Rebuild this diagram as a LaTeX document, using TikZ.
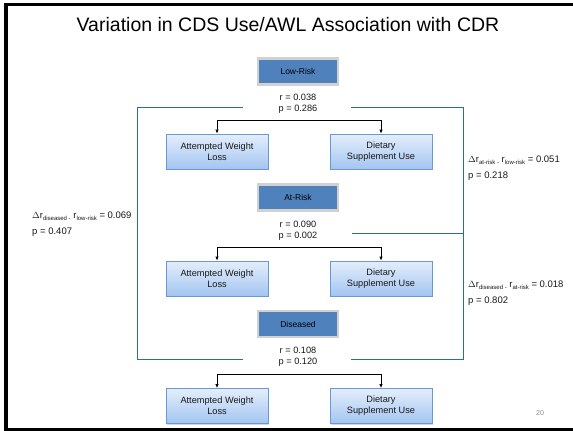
\documentclass[tikz,border=0pt]{standalone}
\usepackage{fontspec}
\setmainfont{Liberation Sans}
\usetikzlibrary{arrows.meta,shadows}
\definecolor{darkbox}{HTML}{4F81BD}
\definecolor{framebl}{HTML}{2A68C2}
\definecolor{lighttop}{HTML}{E4EEFB}
\definecolor{lightbot}{HTML}{A3C5F1}
\definecolor{lightedge}{HTML}{6B98D0}
\newcommand{\sbs}[1]{\raisebox{-0.35ex}{\fontsize{6}{6}\selectfont #1}}
\tikzset{
  darkstep/.style={fill=darkbox, draw=black!18, line width=2.2pt, minimum width=80pt, minimum height=26pt,
    inner sep=0pt, font=\fontsize{8.5}{10}\selectfont, text=black,
    drop shadow={shadow xshift=1.2pt, shadow yshift=-1.2pt, opacity=0.3}},
  lightbox/.style={top color=lighttop, bottom color=lightbot, draw=lightedge, line width=0.8pt,
    minimum width=102pt, minimum height=35pt, inner sep=0pt, align=center,
    font=\fontsize{9.2}{11}\selectfont, text=black!90,
    drop shadow={shadow xshift=1.2pt, shadow yshift=-1.2pt, opacity=0.3}},
  rptext/.style={align=center, inner sep=0pt, font=\fontsize{9.2}{11}\selectfont, text=black!90},
  dtext/.style={align=left, inner sep=0pt, anchor=west, font=\fontsize{9.5}{16}\selectfont, text=black!90},
  arr/.style={-{Latex[length=4pt,width=3.5pt]}, line width=0.8pt, black},
  frameline/.style={draw=framebl, line width=1.1pt}
}
\begin{document}
\begin{tikzpicture}[x=1pt,y=-1pt]
\useasboundingbox (0,0) rectangle (573,431);
\fill[white] (0,0) rectangle (573,431);
% slide frame
\fill[black] (4,3) rectangle (8,431);
\fill[black] (4,3) rectangle (573,6);
\fill[black] (4,428) rectangle (573,431);

\node[font=\fontsize{19.5}{21}\selectfont, text=black] (title) at (288,25) {Variation in CDS Use/AWL Association with CDR};

% blue brackets
\coordinate (fa) at (243,107.5);
\coordinate (fb) at (137.5,107.5);
\coordinate (fc) at (137.5,359.5);
\coordinate (fd) at (243,359.5);
\coordinate (fe) at (351,359.5);
\coordinate (ff) at (463.5,359.5);
\coordinate (fg) at (463.5,107.5);
\coordinate (fh) at (351,107.5);
\coordinate (fi) at (352,233.5);
\coordinate (fj) at (463.5,233.5);
\draw[frameline] (fa) -- (fb) -- (fc) -- (fd);
\draw[frameline] (fe) -- (ff) -- (fg) -- (fh);
\draw[frameline] (fi) -- (fj);

% Low-Risk
\node[darkstep] (low) at (298,71.5) {Low-Risk};
\node[rptext] (rp1) at (298,103.5) {r = 0.038\\p = 0.286};
\node[lightbox] (awl1) at (217,151.5) {Attempted Weight\\Loss};
\node[lightbox] (dsu1) at (381,151.5) {Dietary\\Supplement Use};
\coordinate (j1) at (298,120);
\draw[arr] (j1) -| (awl1.north);
\draw[arr] (j1) -| (dsu1.north);

% At-Risk
\node[darkstep] (at) at (298,197.5) {At-Risk};
\node[rptext] (rp2) at (298,230.5) {r = 0.090\\p = 0.002};
\node[lightbox] (awl2) at (217,278.5) {Attempted Weight\\Loss};
\node[lightbox] (dsu2) at (381,278.5) {Dietary\\Supplement Use};
\coordinate (j2) at (298,247);
\draw[arr] (j2) -| (awl2.north);
\draw[arr] (j2) -| (dsu2.north);

% Diseased
\node[darkstep] (dis) at (298,324) {Diseased};
\node[rptext] (rp3) at (298,356.5) {r = 0.108\\p = 0.120};
\node[lightbox] (awl3) at (217,406) {Attempted Weight\\Loss};
\node[lightbox] (dsu3) at (381,406) {Dietary\\Supplement Use};
\coordinate (j3) at (298,374);
\draw[arr] (j3) -| (awl3.north);
\draw[arr] (j3) -| (dsu3.north);

% difference labels
\node[dtext] (dl) at (32,224) {$\Delta$r\sbs{diseased -} r\sbs{low-risk} = 0.069\\p = 0.407};
\node[dtext] (dr1) at (468,168) {$\Delta$r\sbs{at-risk -} r\sbs{low-risk} = 0.051\\p = 0.218};
\node[dtext] (dr2) at (468,293) {$\Delta$r\sbs{diseased -} r\sbs{at-risk} = 0.018\\p = 0.802};

\node[font=\fontsize{7}{8}\selectfont, text=black!45] (pg) at (540,413) {20};
\end{tikzpicture}
\end{document}
